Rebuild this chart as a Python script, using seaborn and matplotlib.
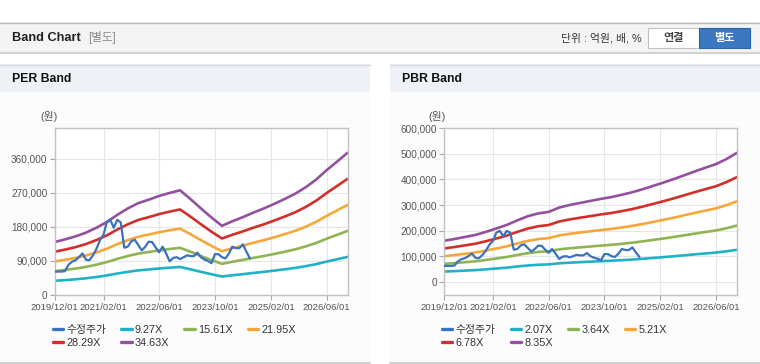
import numpy as np
import pandas as pd
import matplotlib
matplotlib.use("Agg")
import matplotlib.pyplot as plt
import matplotlib.dates as mdates
from matplotlib.patches import Rectangle
from matplotlib.lines import Line2D
from matplotlib.ticker import FuncFormatter
import seaborn as sns

# ================================================================
# DATA
# ================================================================
band_dates = pd.date_range("2019-12-01", periods=29, freq="3MS")
price_dates = pd.date_range("2019-12-01", periods=57, freq="MS")

# adjusted price (수정주가), monthly
price = [62000, 62000, 62000, 63000, 80000, 88000, 92000, 100000, 110000, 93000,
         92000, 105000, 122000, 145000, 160000, 192000, 199000, 178000, 199000, 192000,
         125000, 128000, 142000, 146000, 132000, 118000, 128000, 141000, 140000, 126000,
         113000, 128000, 110000, 89000, 98000, 100000, 95000, 100000, 105000, 103000,
         103000, 112000, 100000, 94000, 90000, 84000, 108000, 108000, 100000, 97000,
         110000, 128000, 124000, 124000, 134000, 115000, 97000]

per_labels = ["9.27X", "15.61X", "21.95X", "28.29X", "34.63X"]
per_927 = [37500, 39400, 41500, 44200, 47700, 51700, 56800, 61300, 65100, 67500,
           70100, 72300, 74200, 68000, 61300, 54900, 49000, 52200, 55100, 58400,
           61300, 64500, 68000, 71700, 76300, 81600, 88300, 94500, 100700]
per_1561 = [63100, 66300, 69900, 74400, 80200, 87000, 95600, 103200, 109500, 113600,
            118100, 121700, 124900, 114500, 103200, 92400, 82500, 87900, 92900, 98300,
            103200, 108600, 114500, 120800, 128500, 137500, 148800, 159100, 169500]
per_2195 = [88700, 93200, 98200, 104600, 112800, 122300, 134400, 145100, 154000, 159700,
            166100, 171100, 175600, 161000, 145100, 129900, 116000, 123600, 130600, 138200,
            145100, 152700, 161000, 169900, 180600, 193300, 209200, 223700, 238300]
per_2829 = [114400, 120100, 126600, 134800, 145400, 157700, 173200, 187100, 198500, 205900,
            214000, 220600, 226300, 207500, 187100, 167500, 149500, 159300, 168300, 178100,
            187100, 196900, 207500, 218900, 232800, 249200, 269600, 288400, 307200]
per_3463 = [140000, 147000, 155000, 165000, 178000, 193000, 212000, 229000, 243000, 252000,
            262000, 270000, 277000, 254000, 229000, 205000, 183000, 195000, 206000, 218000,
            229000, 241000, 254000, 268000, 285000, 305000, 330000, 353000, 376000]

pbr_labels = ["2.07X", "3.64X", "5.21X", "6.78X", "8.35X"]
pbr_207 = [39700, 41400, 43400, 45400, 48300, 51600, 55000, 59500, 63500, 66200,
           67700, 71900, 74400, 76400, 78300, 80300, 82100, 84300, 86800, 89700,
           93000, 96200, 99700, 103400, 107100, 110600, 114000, 119000, 124900]
pbr_364 = [69700, 72800, 76300, 79800, 85000, 90700, 96800, 104600, 111600, 116400,
           119000, 126400, 130800, 134300, 137700, 141200, 144300, 148200, 152600, 157800,
           163500, 169100, 175200, 181800, 188300, 194400, 200500, 209200, 219700]
pbr_521 = [99800, 104200, 109200, 114200, 121700, 129800, 138500, 149800, 159700, 166600,
           170400, 181000, 187200, 192200, 197200, 202200, 206500, 212200, 218400, 225900,
           234000, 242100, 250800, 260200, 269600, 278300, 287000, 299500, 314500]
pbr_678 = [129900, 135600, 142100, 148600, 158300, 168900, 180300, 194900, 207900, 216800,
           221700, 235500, 243600, 250100, 256600, 263100, 268800, 276100, 284200, 293900,
           304500, 315100, 326400, 338600, 350800, 362200, 373500, 389800, 409200]
pbr_835 = [160000, 167000, 175000, 183000, 195000, 208000, 222000, 240000, 256000, 267000,
           273000, 290000, 300000, 308000, 316000, 324000, 331000, 340000, 350000, 362000,
           375000, 388000, 402000, 417000, 432000, 446000, 460000, 480000, 504000]

x_ticks = ["2019-12-01", "2021-02-01", "2022-06-01", "2023-10-01", "2025-02-01", "2026-06-01"]
per_yticks = [0, 90000, 180000, 270000, 360000]
pbr_yticks = [0, 100000, 200000, 300000, 400000, 500000, 600000]

price_color = "#3a72c0"
band_colors = ["#1fb2c6", "#8fb451", "#f6a739", "#d12f2a", "#93509e"]

# ================================================================
# STYLE
# ================================================================
sns.set_theme(style="white")
plt.rcParams["font.family"] = ["Liberation Sans", "Noto Sans CJK KR", "DejaVu Sans"]

W, H = 760, 364
fig = plt.figure(figsize=(W / 100, H / 100), dpi=100)


def fx(x):
    return x / W


def fy(y):
    return 1 - y / H


def rect(x0, y0, x1, y1, color, z=0):
    fig.add_artist(Rectangle((fx(x0), fy(y1)), (x1 - x0) / W, (y1 - y0) / H,
                             transform=fig.transFigure, facecolor=color,
                             edgecolor="none", zorder=z))


def hline(x0, x1, y, color, lw=1.0, z=0.5):
    fig.add_artist(Line2D([fx(x0), fx(x1)], [fy(y), fy(y)], transform=fig.transFigure,
                          color=color, lw=lw, zorder=z))


# ================================================================
# PAGE CHROME
# ================================================================
rect(0, 22, 760, 52, "#f4f4f4")
hline(0, 760, 22.5, "#bcbcbc")
hline(0, 760, 52.5, "#d2d2d2", lw=1.5)

fig.text(fx(12), fy(38), "Band Chart", fontsize=9.2, fontweight="bold", color="#222222",
         va="center", ha="left")
fig.text(fx(88), fy(38), "[별도]", fontsize=8.3, color="#8a8a8a", va="center", ha="left")
fig.text(fx(642), fy(38), "단위 : 억원, 배, %", fontsize=7.8, color="#333333",
         va="center", ha="right")

# buttons
fig.add_artist(Rectangle((fx(648), fy(48)), 51 / W, 20 / H, transform=fig.transFigure,
                         facecolor="white", edgecolor="#c3c3c3", lw=0.8, zorder=1))
fig.add_artist(Rectangle((fx(699), fy(48)), 51 / W, 20 / H, transform=fig.transFigure,
                         facecolor="#3b78c1", edgecolor="#2f65a8", lw=0.8, zorder=1))
fig.text(fx(673.5), fy(38), "연결", fontsize=8, fontweight="bold", color="#444444",
         va="center", ha="center", zorder=2)
fig.text(fx(724.5), fy(38), "별도", fontsize=8, fontweight="bold", color="white",
         va="center", ha="center", zorder=2)

# panels
for x0, x1, title in [(0, 370, "PER Band"), (390, 760, "PBR Band")]:
    rect(x0, 64, x1, 92, "#eef2f7")
    rect(x0, 92, x1, 362, "#fcfcfc")
    hline(x0, x1, 64.5, "#d5d8dc")
    hline(x0, x1, 362.5, "#d0d0d0", lw=1.5)
    fig.text(fx(x0 + 12), fy(79), title, fontsize=8.8, fontweight="bold", color="#111111",
             va="center", ha="left")


# ================================================================
# CHARTS
# ================================================================
def draw_band(left_px, bands, labels, yticks, ylim, unit_x):
    ax = fig.add_axes([fx(left_px), fy(295), 293 / W, (295 - 128.3) / H])
    ax.set_zorder(2)
    ax.set_facecolor("white")

    sns.lineplot(x=price_dates, y=price, ax=ax, color=price_color, lw=1.6,
                 label="수정주가")
    for vals, lab, col in zip(bands, labels, band_colors):
        sns.lineplot(x=band_dates, y=vals, ax=ax, color=col, lw=1.9, label=lab)
    # keep price on top of bands
    ax.get_lines()[0].set_zorder(5)

    ax.set_xlim(pd.Timestamp("2019-12-01"), pd.Timestamp("2026-12-01"))
    ax.set_ylim(*ylim)
    ax.set_xticks(pd.to_datetime(x_ticks))
    ax.xaxis.set_major_formatter(mdates.DateFormatter("%Y/%m/%d"))
    ax.set_yticks(yticks)
    ax.yaxis.set_major_formatter(FuncFormatter(lambda v, p: f"{int(v):,}"))
    ax.set_xlabel("")
    ax.set_ylabel("")

    ax.grid(True, color="#e6e6e6", lw=0.8)
    ax.set_axisbelow(True)
    for s in ax.spines.values():
        s.set_color("#c2c2c2")
        s.set_linewidth(1.0)
    ax.tick_params(axis="both", which="both", length=3.5, width=0.8, color="#a8a8a8",
                   labelsize=7.2, labelcolor="#555555", pad=1.5)
    ax.tick_params(axis="x", bottom=True, labelsize=6.8, pad=2.5)
    ax.tick_params(axis="y", left=True)

    fig.text(fx(unit_x), fy(117), "(원)", fontsize=7.8, color="#555555",
             ha="center", va="center")

    h, l = ax.get_legend_handles_labels()
    order = [0, 4, 1, 5, 2, 3]
    leg = ax.legend([h[i] for i in order], [l[i] for i in order], ncol=4,
                    loc="upper left", bbox_to_anchor=(fx(left_px - 2), fy(325)),
                    bbox_transform=fig.transFigure, frameon=False, fontsize=7.8,
                    handlelength=0.95, handletextpad=0.3, columnspacing=1.4,
                    labelspacing=0.25, borderpad=0, borderaxespad=0)
    for t in leg.get_texts():
        t.set_color("#333333")
    for ln in leg.get_lines():
        ln.set_linewidth(2.4)
    return ax


draw_band(54.5, [per_927, per_1561, per_2195, per_2829, per_3463], per_labels,
          per_yticks, (0, 441000), 49)
draw_band(444, [pbr_207, pbr_364, pbr_521, pbr_678, pbr_835], pbr_labels,
          pbr_yticks, (-52000, 600000), 437)

fig.savefig("out.png", dpi=100)
